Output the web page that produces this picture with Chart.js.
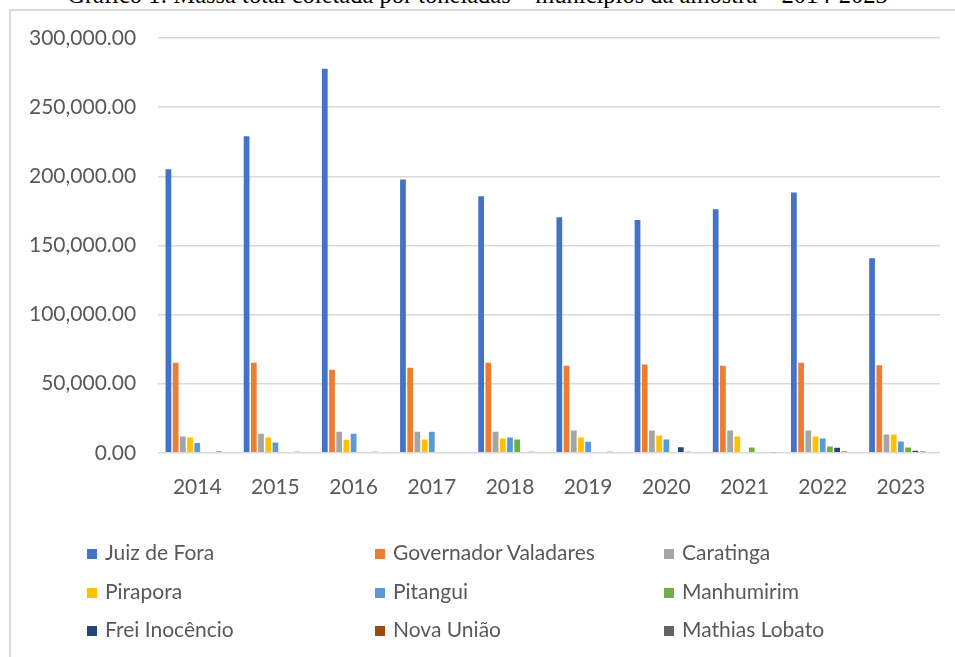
<!DOCTYPE html>
<html>
<head>
<meta charset="utf-8">
<script src="https://cdn.jsdelivr.net/npm/chart.js@4.4.1/dist/chart.umd.min.js"></script>
<style>
  body { margin: 0; background: #fff; width: 955px; height: 657px; overflow: hidden; position: relative; }
  #frame { position: absolute; left: 9px; top: 9px; width: 980px; height: 700px; border: 2px solid #d9d9d9; box-sizing: border-box; }
  #title { position: absolute; left: 0; width: 955px; top: -17px; line-height: 24px; text-align: center;
           font-family: "Liberation Serif", "Times New Roman", serif; font-size: 24.5px; color: #000; white-space: nowrap; }
  #chart { position: absolute; left: 0; top: 0; }
  .lg { position: absolute; font-family: Lato, sans-serif; font-size: 21px; color: #595959; white-space: nowrap; line-height: 24px; }
  .lg span { display: inline-block; width: 10px; height: 10px; margin-right: 8px; vertical-align: 1px; }
</style>
</head>
<body>
<div id="frame"></div>
<div id="title">Gráfico 1: Massa total coletada por toneladas – municípios da amostra – 2014-2023</div>
<canvas id="chart" width="955" height="657"></canvas>
<div id="legend"></div>
<script>
// values in tonnes
const years = ["2014", "2015", "2016", "2017", "2018", "2019", "2020", "2021", "2022", "2023"];
const yTicks = [0, 50000, 100000, 150000, 200000, 250000, 300000];

const juizDeFora = [205100, 229000, 277800, 197600, 185500, 170400, 168400, 176200, 188300, 140700];
const governadorValadares = [65200, 65200, 60100, 61600, 65200, 63000, 63800, 63000, 65200, 63300];
const caratinga = [11800, 13700, 15200, 15200, 15200, 16100, 16100, 16100, 16100, 13200];
const pirapora = [11000, 11000, 9400, 9600, 10300, 11000, 12500, 11800, 11800, 13200];
const pitangui = [7000, 7500, 13700, 15200, 11000, 8000, 9600, 0, 10300, 8200];
const manhumirim = [0, 0, 0, 0, 9600, 0, 0, 3800, 4600, 3800];
const freiInocencio = [0, 0, 0, 0, 0, 0, 4000, 0, 3600, 1500];
const novaUniao = [900, 800, 800, 0, 800, 800, 800, 500, 1000, 900];
const mathiasLobato = [0, 0, 0, 500, 0, 0, 0, 400, 0, 0];

const seriesNames = ["Juiz de Fora", "Governador Valadares", "Caratinga", "Pirapora", "Pitangui",
  "Manhumirim", "Frei Inocêncio", "Nova União", "Mathias Lobato"];
const seriesData = [juizDeFora, governadorValadares, caratinga, pirapora, pitangui,
  manhumirim, freiInocencio, novaUniao, mathiasLobato];
const seriesColors = ["#4472C4", "#ED7D31", "#A5A5A5", "#FFC000", "#5B9BD5",
  "#70AD47", "#264478", "#9E480E", "#636363"];

const fmt = v => v.toLocaleString("en-US", { minimumFractionDigits: 2, maximumFractionDigits: 2 });
const txt = "#595959";

const chart = new Chart(document.getElementById("chart"), {
  type: "bar",
  data: {
    labels: years,
    datasets: seriesNames.map((name, i) => ({
      label: name,
      data: seriesData[i],
      backgroundColor: seriesColors[i],
      categoryPercentage: 0.83,
      barPercentage: 0.8
    }))
  },
  options: {
    responsive: false,
    animation: false,
    layout: { padding: { left: 7, top: 38, right: 15, bottom: 143 } },
    plugins: { legend: { display: false }, tooltip: { enabled: false } },
    scales: {
      x: {
        grid: { display: false },
        border: { display: false },
        ticks: { color: txt, font: { family: "Lato", size: 21 }, padding: 14 }
      },
      y: {
        min: 0,
        max: 300000,
        afterBuildTicks: axis => { axis.ticks = yTicks.map(v => ({ value: v })); },
        grid: { color: "#d9d9d9", lineWidth: 1.5, drawTicks: false },
        border: { display: false },
        ticks: { color: txt, font: { family: "Lato", size: 21 }, padding: 22, callback: v => fmt(v) }
      }
    }
  }
});

// legend: 3 columns x 3 rows
const colX = [87, 375, 664];
const rowY = [552, 591, 629];
const legend = document.getElementById("legend");
seriesNames.forEach((name, i) => {
  const d = document.createElement("div");
  d.className = "lg";
  d.style.left = colX[i % 3] + "px";
  d.style.top = (rowY[Math.floor(i / 3)] - 12) + "px";
  d.innerHTML = '<span style="background:' + seriesColors[i] + '"></span>' + name;
  legend.appendChild(d);
});
</script>
</body>
</html>
